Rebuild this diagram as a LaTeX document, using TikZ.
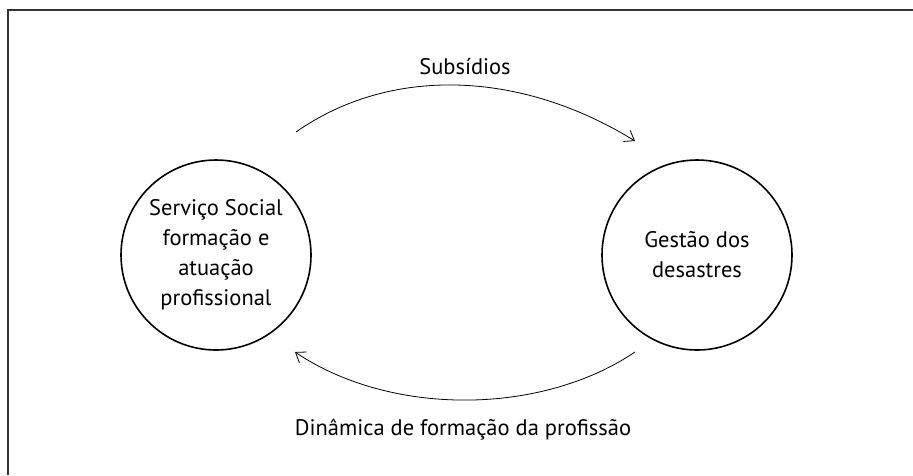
\documentclass[tikz,border=0pt]{standalone}
\usepackage{fontspec}
\setmainfont{PT Sans}
\usetikzlibrary{arrows.meta}

\begin{document}
\begin{tikzpicture}[x=1pt, y=-1pt,
    circ/.style={circle, draw, line width=1.6pt, minimum size=190pt, inner sep=0pt, align=center, font=\fontsize{22.5}{30}\selectfont},
    lbl/.style={font=\fontsize{22.5}{27}\selectfont},
    arrow/.style={-{Straight Barb[length=9pt,width=13pt]}, line width=0.8pt}
]
    \useasboundingbox (0,0) rectangle (913,475);

    % Frame
    \draw[line width=1.5pt, black!80] (8,475) -- (8,10) -- (913,10);

    % Circles
    \node[circ] (servico) at (216,255) {Serviço Social\\formação e\\atuação\\profissional};
    \node[circ] (gestao) at (697,255) {Gestão dos\\desastres};

    % Arc ends
    \coordinate (topstart) at (296,132);
    \coordinate (topend) at (635,141);
    \coordinate (botstart) at (635,352);
    \coordinate (botend) at (295,352);

    % Arrows
    \draw[arrow] (topstart) .. controls (390,66) and (520,70) .. (topend);
    \draw[arrow] (botstart) .. controls (540,416) and (390,416) .. (botend);

    % Labels
    \node[lbl] (subsidios) at (465,67) {Subsídios};
    \node[lbl] (dinamica) at (463,430) {Dinâmica de formação da profissão};
\end{tikzpicture}
\end{document}
